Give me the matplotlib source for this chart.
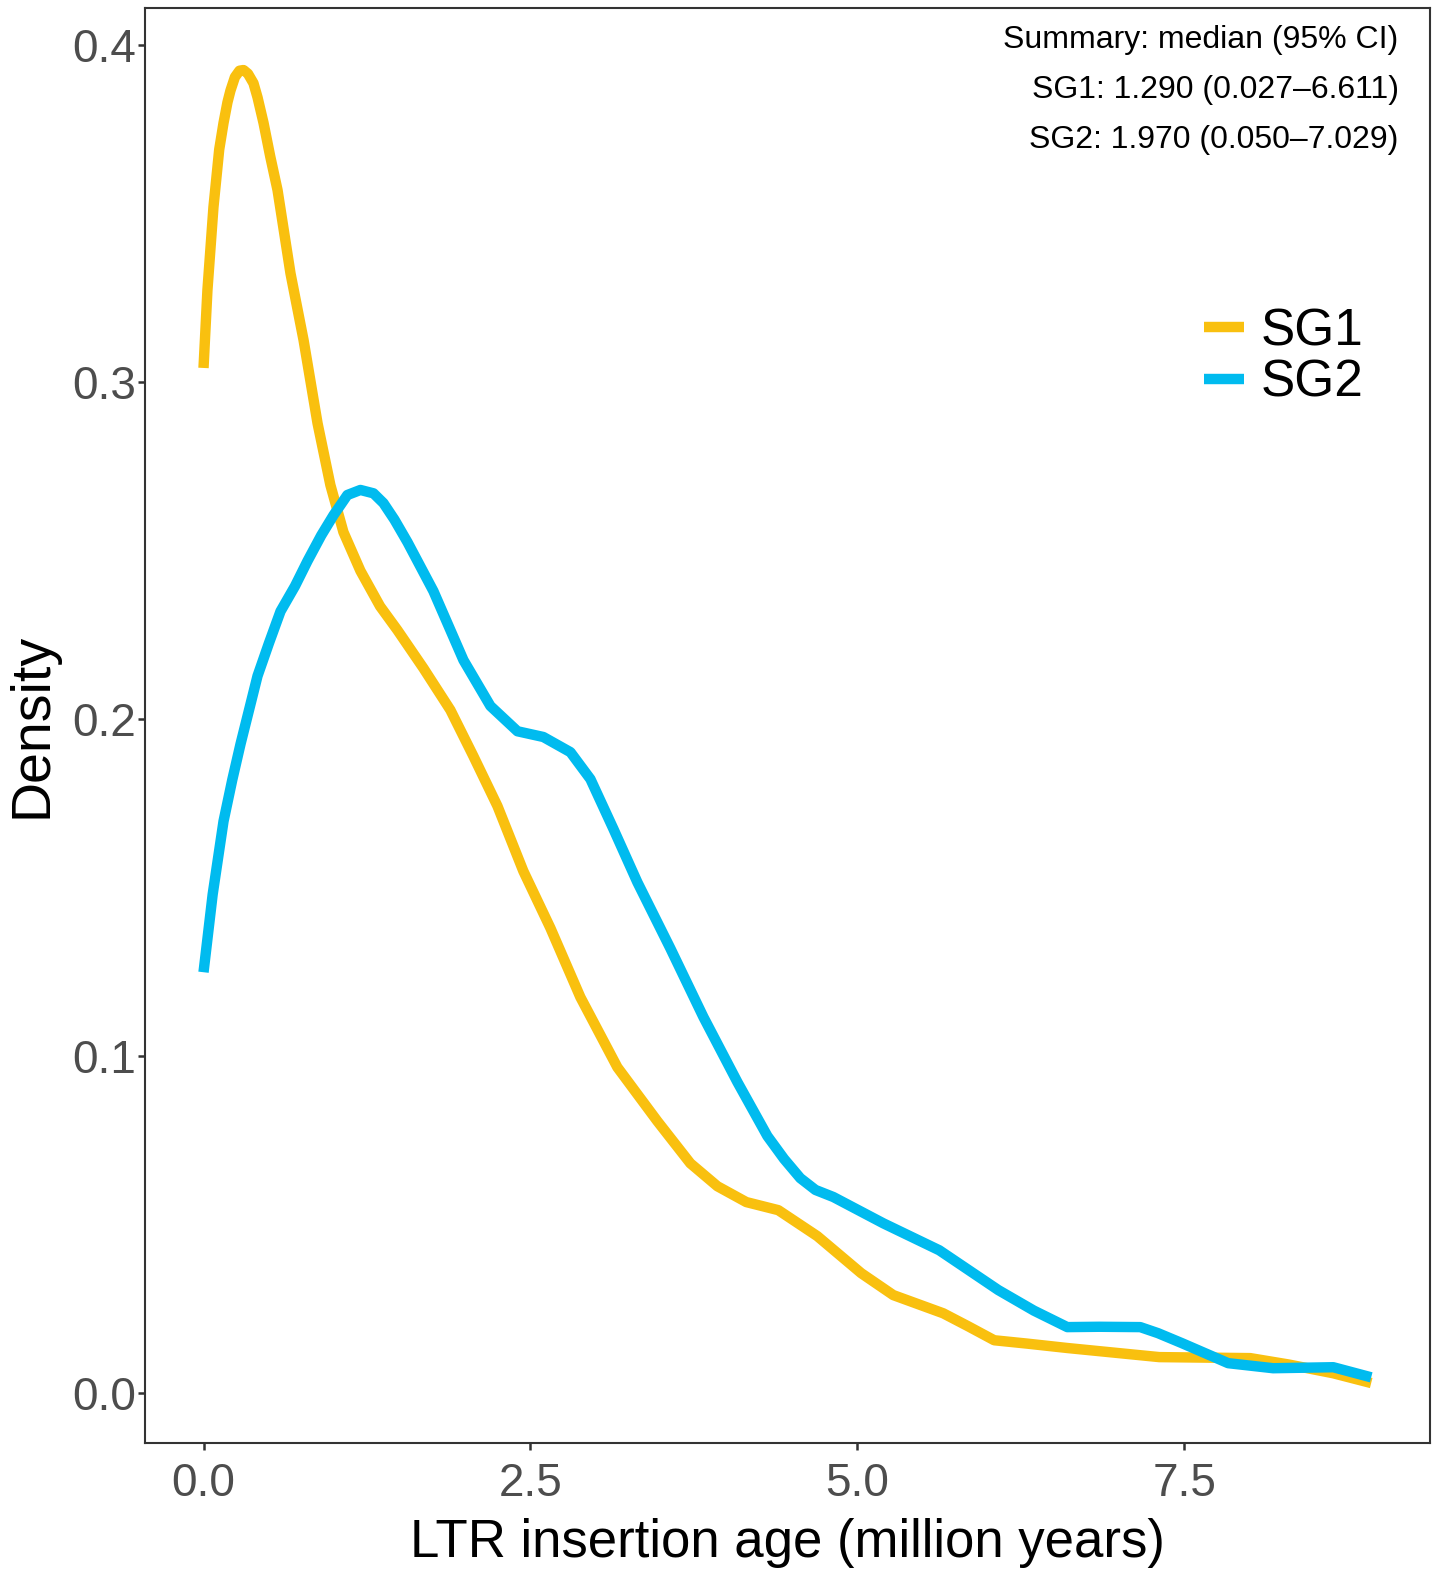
import matplotlib
matplotlib.use('Agg')
import matplotlib.pyplot as plt
import numpy as np

plt.rcParams['font.family'] = ['Liberation Sans', 'DejaVu Sans']

# density curves (age in million years, density)
sg1_x = [0.0, 0.03, 0.076, 0.12, 0.153, 0.183, 0.206, 0.24, 0.275, 0.306, 0.34, 0.382,
         0.413, 0.459, 0.51, 0.566, 0.665, 0.765, 0.872, 0.97, 1.07, 1.2, 1.35, 1.483,
         1.682, 1.888, 2.064, 2.248, 2.446, 2.653, 2.882, 3.165, 3.471, 3.723, 3.930,
         4.151, 4.396, 4.694, 5.03, 5.275, 5.657, 5.85, 6.047, 6.3, 6.606, 7.309, 8.005,
         8.30, 8.64, 8.93]
sg1_y = [0.3042, 0.3273, 0.3519, 0.369, 0.3769, 0.383, 0.3865, 0.3905, 0.3924, 0.3926,
         0.3915, 0.3887, 0.3845, 0.3769, 0.367, 0.357, 0.3323, 0.3125, 0.2878, 0.2695,
         0.2555, 0.244, 0.2335, 0.2264, 0.2151, 0.2027, 0.189, 0.1742, 0.1549, 0.138,
         0.1175, 0.0967, 0.0807, 0.0682, 0.0614, 0.0567, 0.0543, 0.0466, 0.0356, 0.0291,
         0.0237, 0.0198, 0.0157, 0.0147, 0.0134, 0.0107, 0.0104, 0.0085, 0.0059, 0.003]

sg2_x = [0.0, 0.07, 0.153, 0.22, 0.283, 0.35, 0.413, 0.5, 0.589, 0.7, 0.795, 0.9, 0.994,
         1.1, 1.2, 1.3, 1.376, 1.46, 1.56, 1.758, 1.988, 2.194, 2.401, 2.599, 2.806, 2.959,
         3.135, 3.318, 3.57, 3.823, 4.083, 4.312, 4.44, 4.564, 4.68, 4.817, 5.199, 5.627,
         6.078, 6.35, 6.606, 6.85, 7.164, 7.3, 7.485, 7.836, 8.18, 8.64, 8.93]
sg2_y = [0.1249, 0.148, 0.1697, 0.182, 0.1926, 0.203, 0.2128, 0.2225, 0.232, 0.2395,
         0.2469, 0.2545, 0.2605, 0.2665, 0.268, 0.267, 0.2641, 0.2592, 0.2525, 0.238,
         0.2175, 0.2039, 0.1964, 0.1947, 0.1902, 0.1822, 0.1674, 0.1516, 0.132, 0.1116,
         0.0923, 0.0763, 0.0695, 0.0638, 0.0603, 0.0582, 0.0504, 0.0424, 0.0306, 0.0245,
         0.0196, 0.0197, 0.0196, 0.0178, 0.0148, 0.0089, 0.0074, 0.0077, 0.0047]

summary_lines = ['Summary: median (95% CI)',
                 'SG1: 1.290 (0.027\u20136.611)',
                 'SG2: 1.970 (0.050\u20137.029)']

fig = plt.figure(figsize=(14.42, 15.74), dpi=100)
ax = fig.add_axes([0.1006, 0.0832, 0.8911, 0.9117])

ax.plot(sg1_x, sg1_y, color='#F9C00F', lw=7.5, label='SG1', solid_capstyle='butt',
        solid_joinstyle='round')
ax.plot(sg2_x, sg2_y, color='#00BBEF', lw=7.5, label='SG2', solid_capstyle='butt',
        solid_joinstyle='round')

ax.set_xlim(-0.447, 9.38)
ax.set_ylim(-0.0148, 0.411)
ax.set_xticks([0.0, 2.5, 5.0, 7.5])
ax.set_xticklabels(['0.0', '2.5', '5.0', '7.5'])
ax.set_yticks([0.0, 0.1, 0.2, 0.3, 0.4])
ax.set_yticklabels(['0.0', '0.1', '0.2', '0.3', '0.4'])
ax.tick_params(labelsize=33, labelcolor='#4D4D4D', color='#333333', length=5, width=1.8)
ax.tick_params(axis='x', pad=8.5)
ax.tick_params(axis='y', pad=1.5)
for s in ax.spines.values():
    s.set_color('#333333')
    s.set_linewidth(1.5)

ax.set_xlabel('LTR insertion age (million years)', fontsize=38, labelpad=9)
ax.set_ylabel('Density', fontsize=40, labelpad=10)

for i, line in enumerate(summary_lines):
    ax.text(0.9755, 0.9777 - i * 0.0348, line, transform=ax.transAxes,
            ha='right', va='center', fontsize=23)

leg = ax.legend(loc='center left', bbox_to_anchor=(0.788, 0.7565), frameon=False,
                fontsize=37, handlelength=0.78, handletextpad=0.32, labelspacing=0.05)

fig.savefig('out.png', dpi=100)
